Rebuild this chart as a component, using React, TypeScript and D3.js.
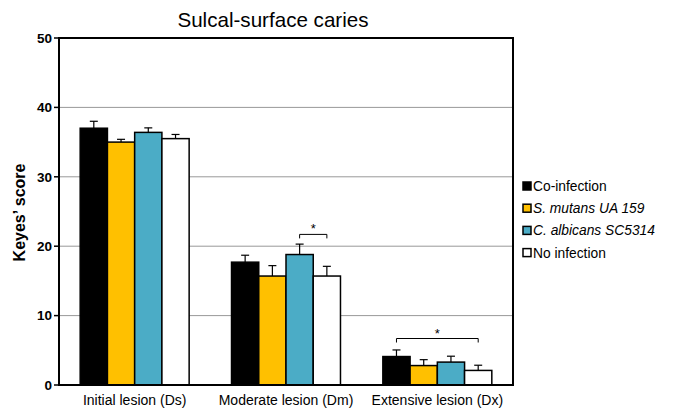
import React from "react";
import * as d3 from "d3";

const groups = ["Initial lesion (Ds)", "Moderate lesion (Dm)", "Extensive lesion (Dx)"];
const seriesNames = ["Co-infection", "S. mutans UA 159", "C. albicans SC5314", "No infection"];
const seriesItalic = [false, true, true, false];
const seriesColors = ["#000000", "#FFC000", "#4BACC6", "#FFFFFF"];
const coInfection = [37.0, 17.7, 4.1];
const sMutans = [35.0, 15.7, 2.8];
const cAlbicans = [36.4, 18.8, 3.3];
const noInfection = [35.5, 15.7, 2.1];
const coInfectionErr = [1.0, 1.0, 0.95];
const sMutansErr = [0.4, 1.5, 0.85];
const cAlbicansErr = [0.65, 1.5, 0.85];
const noInfectionErr = [0.6, 1.4, 0.75];
const yTicks = [0, 10, 20, 30, 40, 50];
// significance brackets: [group index, from series, to series, y value]
const brackets = [
  { group: 1, from: 2, to: 3, y: 21.7 },
  { group: 2, from: 0, to: 3, y: 6.7 },
];

const values = [coInfection, sMutans, cAlbicans, noInfection];
const errors = [coInfectionErr, sMutansErr, cAlbicansErr, noInfectionErr];

export default function App() {
  const W = 674, H = 410;
  const left = 59, right = 513, top = 38, bottom = 385;
  const x0 = d3.scaleBand<string>().domain(groups).range([left, right]).paddingInner(0).paddingOuter(0);
  const step = x0.bandwidth();
  const x1 = d3.scaleBand<number>().domain([0, 1, 2, 3]).range([0, step * 0.72]).padding(0);
  const y = d3.scaleLinear().domain([0, 50]).range([bottom, top]);
  const bw = x1.bandwidth();
  const gx = (g: string) => (x0(g) as number) + step * 0.14;
  const font = "Arial, 'Liberation Sans', sans-serif";

  return (
    <svg width={W} height={H} style={{ position: "absolute", left: 0, top: 0 }} fontFamily={font}>
      <rect x={0} y={0} width={W} height={H} fill="#fff" />
      <text x={273} y={27} textAnchor="middle" fontSize={20.6}>Sulcal-surface caries</text>
      {yTicks.filter(t => t > 0 && t < 50).map(t => (
        <line key={"g" + t} x1={left} x2={right} y1={y(t)} y2={y(t)} stroke="#999" strokeWidth={1} />
      ))}
      {groups.map((g, gi) =>
        values.map((vals, si) => {
          const xx = gx(g) + (x1(si) as number);
          const v = vals[gi];
          const e = errors[si][gi];
          const cx = xx + bw / 2;
          return (
            <g key={g + si}>
              <line x1={cx} x2={cx} y1={y(v)} y2={y(v + e)} stroke="#000" strokeWidth={1.2} />
              <line x1={cx - 4} x2={cx + 4} y1={y(v + e)} y2={y(v + e)} stroke="#000" strokeWidth={1.2} />
              <rect x={xx} y={y(v)} width={bw} height={bottom - y(v)} fill={seriesColors[si]} stroke="#000" strokeWidth={1.5} />
            </g>
          );
        })
      )}
      {brackets.map((b, i) => {
        const g = groups[b.group];
        const xa = gx(g) + (x1(b.from) as number) + bw / 2;
        const xb = gx(g) + (x1(b.to) as number) + bw / 2;
        const yy = y(b.y);
        return (
          <g key={"b" + i}>
            <path d={`M${xa},${yy + 4}V${yy}H${xb}V${yy + 4}`} fill="none" stroke="#000" strokeWidth={1} />
            <text x={(xa + xb) / 2} y={yy - 1} textAnchor="middle" fontSize={13}>*</text>
          </g>
        );
      })}
      <rect x={left} y={top} width={right - left} height={bottom - top} fill="none" stroke="#000" strokeWidth={2} />
      {yTicks.map(t => (
        <g key={"t" + t}>
          <line x1={left - 5} x2={left} y1={y(t)} y2={y(t)} stroke="#000" strokeWidth={1.5} />
          <text x={left - 7} y={y(t)} dy="0.35em" textAnchor="end" fontSize={13.5} fontWeight="bold">{t}</text>
        </g>
      ))}
      {groups.map(g => (
        <text key={"xl" + g} x={(x0(g) as number) + step / 2} y={405} textAnchor="middle" fontSize={14}>{g}</text>
      ))}
      <text transform={`translate(25,${(top + bottom) / 2 + 1}) rotate(-90)`} textAnchor="middle" fontSize={16} fontWeight="bold">Keyes’ score</text>
      {seriesNames.map((n, i) => (
        <g key={"lg" + i} transform={`translate(523,${186 + i * 22.2})`}>
          <rect x={0} y={-4} width={8} height={8} fill={seriesColors[i]} stroke="#000" strokeWidth={1.5} />
          <text x={10} y={0} dy="0.36em" fontSize={13.8} fontStyle={seriesItalic[i] ? "italic" : "normal"}>{n}</text>
        </g>
      ))}
    </svg>
  );
}
